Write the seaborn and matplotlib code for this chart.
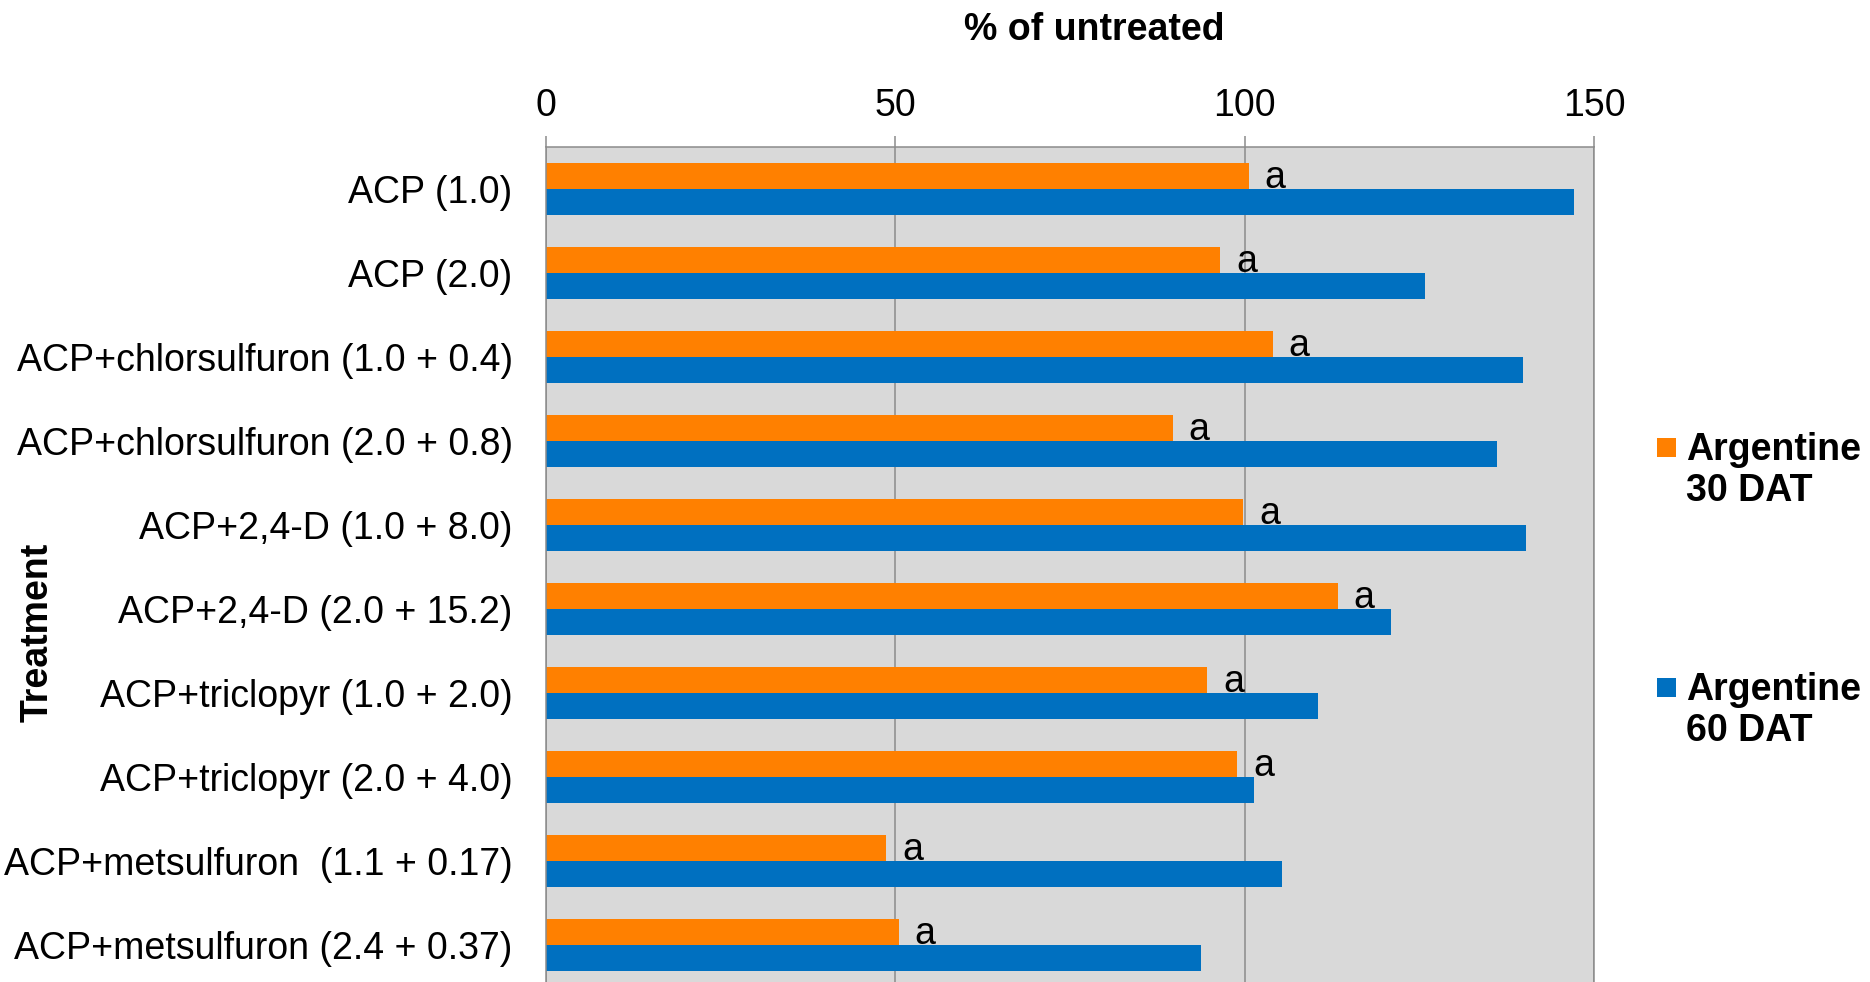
import matplotlib
matplotlib.use("Agg")
import matplotlib.pyplot as plt
from matplotlib.patches import Rectangle
import seaborn as sns
import pandas as pd

# Treatments (rate in parentheses) and responses as % of the untreated check
treatments = [
    "ACP (1.0)",
    "ACP (2.0)",
    "ACP+chlorsulfuron (1.0 + 0.4)",
    "ACP+chlorsulfuron (2.0 + 0.8)",
    "ACP+2,4-D (1.0 + 8.0)",
    "ACP+2,4-D (2.0 + 15.2)",
    "ACP+triclopyr (1.0 + 2.0)",
    "ACP+triclopyr (2.0 + 4.0)",
    "ACP+metsulfuron  (1.1 + 0.17)",
    "ACP+metsulfuron (2.4 + 0.37)",
]
argentine_30dat = [100.6, 96.5, 104.0, 89.7, 99.8, 113.3, 94.6, 98.9, 48.7, 50.5]
argentine_60dat = [147.1, 125.8, 139.8, 136.1, 140.3, 120.9, 110.5, 101.4, 105.3, 93.8]
letters_30dat = ["a"] * 10

series_names = ["Argentine\n30 DAT", "Argentine\n60 DAT"]
series_colors = ["#FF8000", "#0070C0"]
x_ticks = [0, 50, 100, 150]

df = pd.concat([
    pd.DataFrame({"Treatment": treatments, "value": argentine_30dat, "series": series_names[0]}),
    pd.DataFrame({"Treatment": treatments, "value": argentine_60dat, "series": series_names[1]}),
])

sns.set_theme(style="white")
plt.rcParams["font.family"] = ["Liberation Sans", "DejaVu Sans"]

W, H = 1870, 982
fig = plt.figure(figsize=(W / 100, H / 100), dpi=100)
# plot area in pixels: x 546..1594, y 147..987 (from top)
ax = fig.add_axes([546 / W, -5 / H, 1048 / W, 840 / H])
ax.set_facecolor("#D9D9D9")

sns.barplot(
    data=df, y="Treatment", x="value", hue="series", orient="h",
    order=treatments, hue_order=series_names, palette=series_colors,
    saturation=1, width=0.626, linewidth=0, legend=False, ax=ax,
)

ax.set_xlim(0, 150)
ax.set_ylim(len(treatments) - 0.5, -0.5)

grid_col = "#8C8C8C"
ax.set_axisbelow(True)
ax.grid(axis="x", color=grid_col, linewidth=1.1)
ax.grid(axis="y", visible=False)
for side in ["top", "left", "right"]:
    ax.spines[side].set_visible(True)
    ax.spines[side].set_color(grid_col)
    ax.spines[side].set_linewidth(1.1)
ax.spines["bottom"].set_visible(False)

ax.set_xticks(x_ticks)
ax.tick_params(axis="x", top=True, bottom=False, labeltop=True, labelbottom=False,
               direction="out", length=8, width=1.1, color=grid_col,
               pad=8.5, labelsize=27, labelcolor="black")
ax.tick_params(axis="y", left=False, length=0, pad=24, labelsize=27, labelcolor="black")

ax.xaxis.set_label_position("top")
ax.set_xlabel("% of untreated", fontsize=27, fontweight="bold", color="black")
ax.xaxis.set_label_coords(0.523, 1.139)
ax.xaxis.label.set_verticalalignment("center")

ax.set_ylabel("Treatment", fontsize=27, fontweight="bold", color="black")
ax.yaxis.set_label_coords(-0.4847, 0.4226)
ax.yaxis.label.set_verticalalignment("center")

# significance letters beside the 30 DAT bars
for i, (v, lab) in enumerate(zip(argentine_30dat, letters_30dat)):
    ax.annotate(lab, xy=(v, i), xytext=(11.5, 0.7), textcoords="offset points",
                ha="left", va="baseline", fontsize=27, color="black")

# legend: square markers aligned with the first line of each label
legend_rows = [(438, 432), (678, 672)]
for (sq_top, text_top), name, col in zip(legend_rows, series_names, series_colors):
    fig.add_artist(Rectangle((1657 / W, 1 - (sq_top + 19) / H), 19 / W, 19 / H,
                             transform=fig.transFigure, facecolor=col, edgecolor="none"))
    fig.text(1686 / W, 1 - text_top / H, name, ha="left", va="top",
             fontsize=27, fontweight="bold", color="black", linespacing=1.17)

fig.savefig("out.png", dpi=100, facecolor="white")
